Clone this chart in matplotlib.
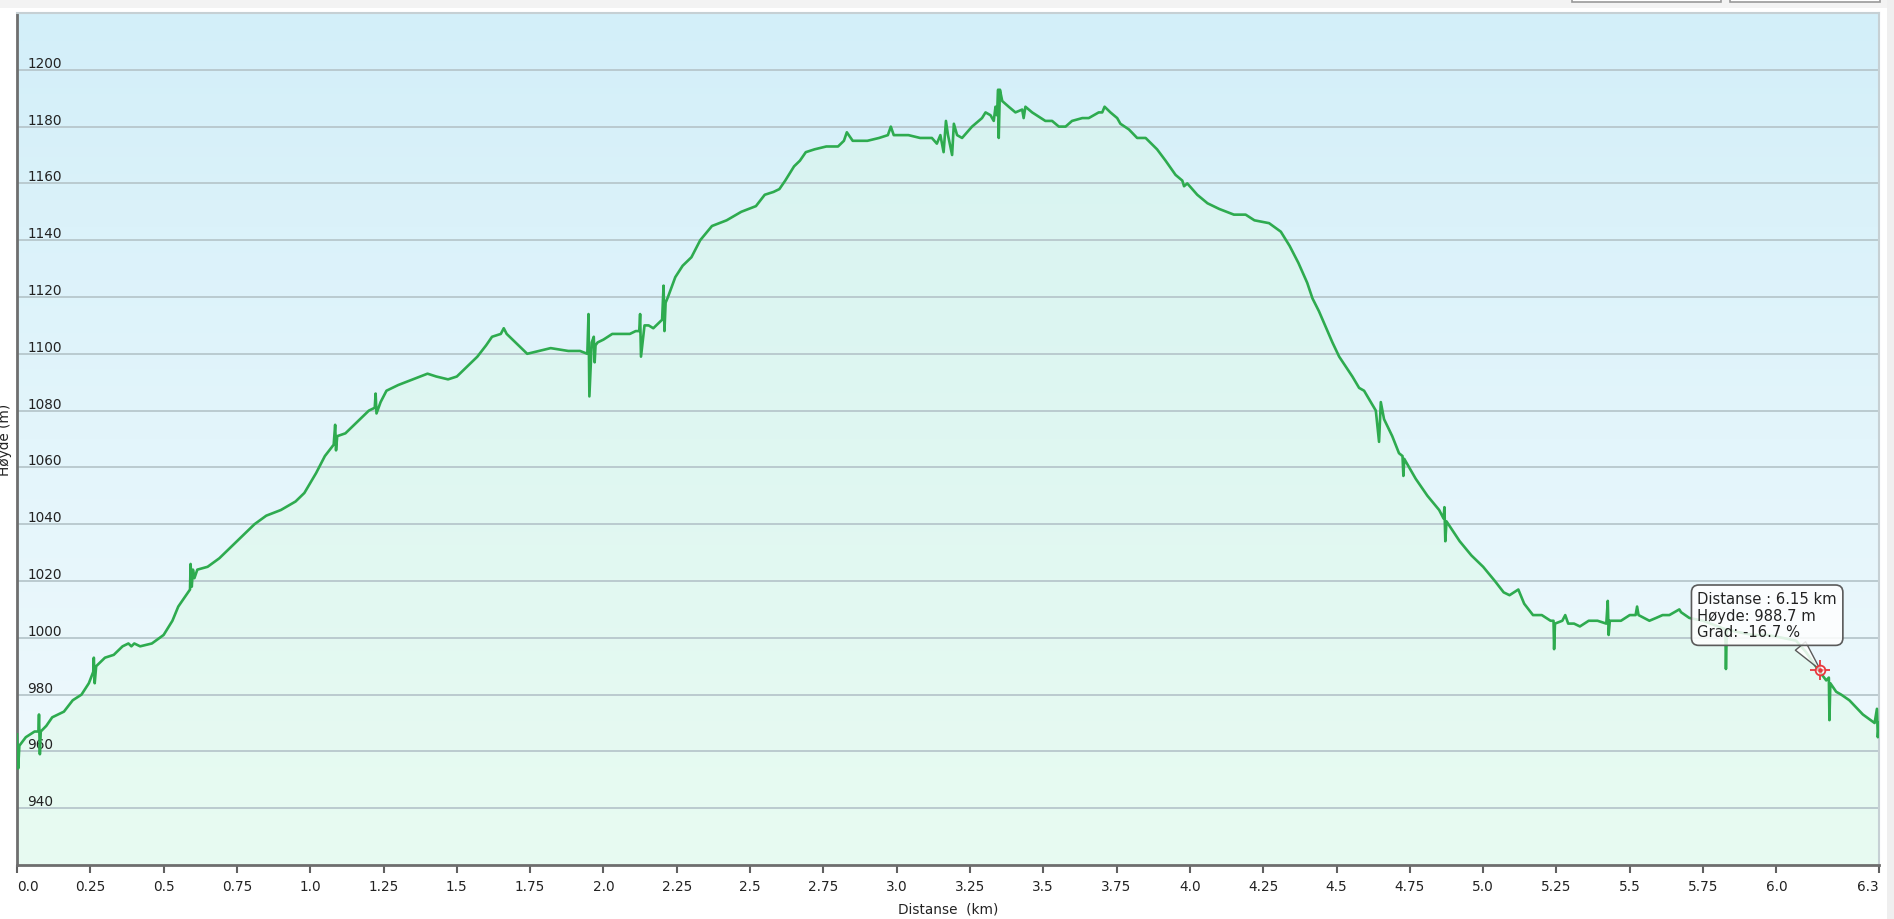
import numpy as np
import matplotlib
matplotlib.use('Agg')
import matplotlib.pyplot as plt
from matplotlib.patches import Rectangle
from matplotlib.colors import LinearSegmentedColormap

# ---------------- data ----------------
dist_km = [
    0.000, 0.004, 0.008, 0.03, 0.06, 0.073, 0.075, 0.078, 0.081, 0.10, 0.12, 0.16, 0.19, 0.22, 0.245,
    0.26, 0.262, 0.265, 0.27, 0.30, 0.33, 0.36, 0.38, 0.39, 0.40, 0.42, 0.46, 0.50, 0.53, 0.55, 0.57,
    0.59, 0.592, 0.596, 0.60, 0.605, 0.615, 0.65, 0.69, 0.73, 0.77, 0.81, 0.85, 0.90, 0.95, 0.98,
    1.02, 1.05, 1.08, 1.085, 1.088, 1.092, 1.12, 1.16, 1.20, 1.22, 1.223, 1.226, 1.24, 1.26, 1.30,
    1.35, 1.40, 1.43, 1.47, 1.50, 1.54, 1.57, 1.60, 1.62, 1.65, 1.66, 1.67, 1.70, 1.74, 1.78, 1.82,
    1.88, 1.92, 1.945, 1.949, 1.952, 1.96, 1.967, 1.970, 1.973, 1.98, 2.00, 2.03, 2.06, 2.09, 2.11,
    2.122, 2.125, 2.128, 2.14, 2.154, 2.17, 2.18, 2.20, 2.205, 2.208, 2.212, 2.22, 2.245, 2.27, 2.30,
    2.33, 2.37, 2.42, 2.47, 2.52, 2.55, 2.58, 2.60, 2.62, 2.65, 2.67, 2.69, 2.72, 2.76, 2.80, 2.82,
    2.83, 2.85, 2.90, 2.94, 2.97, 2.98, 2.99, 3.01, 3.04, 3.08, 3.12, 3.137, 3.149, 3.16, 3.168,
    3.175, 3.189, 3.195, 3.206, 3.223, 3.257, 3.291, 3.303, 3.32, 3.331, 3.337, 3.342, 3.346, 3.348,
    3.352, 3.36, 3.382, 3.405, 3.428, 3.433, 3.439, 3.462, 3.507, 3.53, 3.553, 3.576, 3.598, 3.633,
    3.655, 3.672, 3.689, 3.701, 3.709, 3.729, 3.752, 3.763, 3.792, 3.82, 3.849, 3.888, 3.917, 3.951,
    3.974, 3.98, 3.991, 4.025, 4.06, 4.10, 4.15, 4.19, 4.22, 4.27, 4.31, 4.34, 4.37, 4.40, 4.418,
    4.44, 4.486, 4.509, 4.554, 4.577, 4.594, 4.634, 4.645, 4.651, 4.662, 4.69, 4.713, 4.725, 4.728,
    4.731, 4.77, 4.81, 4.85, 4.865, 4.868, 4.871, 4.875, 4.92, 4.96, 5.00, 5.04, 5.07, 5.09, 5.12,
    5.14, 5.17, 5.20, 5.23, 5.24, 5.242, 5.245, 5.27, 5.28, 5.29, 5.31, 5.33, 5.36, 5.39, 5.42,
    5.425, 5.428, 5.432, 5.47, 5.50, 5.52, 5.525, 5.53, 5.567, 5.59, 5.612, 5.635, 5.652, 5.669,
    5.675, 5.703, 5.75, 5.80, 5.826, 5.828, 5.831, 5.87, 5.92, 5.97, 6.02, 6.067, 6.101, 6.141,
    6.17, 6.179, 6.181, 6.184, 6.204, 6.221, 6.249, 6.295, 6.335, 6.343, 6.346, 6.35,
]
elev_m = [
    966, 954, 962, 965, 967, 967, 973, 959, 967, 969, 972, 974, 978, 980, 984,
    988, 993, 984, 990, 993, 994, 997, 998, 997, 998, 997, 998, 1001, 1006, 1011, 1014,
    1017, 1026, 1018, 1024, 1021, 1024, 1025, 1028, 1032, 1036, 1040, 1043, 1045, 1048, 1051,
    1058, 1064, 1068, 1075, 1066, 1071, 1072, 1076, 1080, 1081, 1086, 1079, 1083, 1087, 1089,
    1091, 1093, 1092, 1091, 1092, 1096, 1099, 1103, 1106, 1107, 1109, 1107, 1104, 1100, 1101, 1102,
    1101, 1101, 1100, 1114, 1085, 1104, 1106, 1097, 1103, 1104, 1105, 1107, 1107, 1107, 1108,
    1108, 1114, 1099, 1110, 1110, 1109, 1110, 1112, 1124, 1108, 1118, 1120, 1127, 1131, 1134,
    1140, 1145, 1147, 1150, 1152, 1156, 1157, 1158, 1161, 1166, 1168, 1171, 1172, 1173, 1173, 1175,
    1178, 1175, 1175, 1176, 1177, 1180, 1177, 1177, 1177, 1176, 1176, 1174, 1177, 1171, 1182,
    1177, 1170, 1181, 1177, 1176, 1180, 1183, 1185, 1184, 1182, 1187, 1184, 1193, 1176,
    1193, 1189, 1187, 1185, 1186, 1183, 1187, 1185, 1182, 1182, 1180, 1180, 1182, 1183,
    1183, 1184, 1185, 1185, 1187, 1185, 1183, 1181, 1179, 1176, 1176, 1172, 1168, 1163,
    1161, 1159, 1160, 1156, 1153, 1151, 1149, 1149, 1147, 1146, 1143, 1138, 1132, 1125, 1119.5,
    1115, 1104, 1099, 1092, 1088, 1087, 1080, 1069, 1083, 1077, 1071, 1065, 1064, 1057,
    1063, 1056, 1050, 1045, 1042, 1046, 1034, 1041, 1034, 1029, 1025, 1020, 1016, 1015, 1017,
    1012, 1008, 1008, 1006, 1006, 996, 1005, 1006, 1008, 1005, 1005, 1004, 1006, 1006, 1005,
    1013, 1001, 1006, 1006, 1008, 1008, 1011, 1008, 1006, 1007, 1008, 1008, 1009, 1010,
    1009, 1007, 1006, 1004, 1003, 989, 1003, 1002, 1001, 1001, 1000, 999, 995, 989,
    985, 986, 971, 984, 981, 980, 978, 973, 970, 975, 965, 970,
]

y_ticks = [940, 960, 980, 1000, 1020, 1040, 1060, 1080, 1100, 1120, 1140, 1160, 1180, 1200]
x_ticks = [0.0, 0.25, 0.5, 0.75, 1.0, 1.25, 1.5, 1.75, 2.0, 2.25, 2.5, 2.75, 3.0, 3.25, 3.5,
           3.75, 4.0, 4.25, 4.5, 4.75, 5.0, 5.25, 5.5, 5.75, 6.0, 6.35]
x_tick_labels = ['0.0', '0.25', '0.5', '0.75', '1.0', '1.25', '1.5', '1.75', '2.0', '2.25', '2.5',
                 '2.75', '3.0', '3.25', '3.5', '3.75', '4.0', '4.25', '4.5', '4.75', '5.0', '5.25',
                 '5.5', '5.75', '6.0', '6.3']
x_min, x_max = 0.0, 6.35
y_min, y_max = 920, 1220

tip_dist, tip_elev, tip_grad = 6.15, 988.7, -16.7

# ---------------- figure ----------------
W, H = 1894, 920
fig = plt.figure(figsize=(W / 100, H / 100), dpi=100)
fig.patch.set_facecolor('white')

# top grey strip and right scroll strip
fig.add_artist(Rectangle((0, 1 - 9 / H), 1, 9 / H, transform=fig.transFigure,
                         facecolor='#f3f3f3', edgecolor='none', zorder=0))
fig.add_artist(Rectangle((1887 / W, 0), 7 / W, 1, transform=fig.transFigure,
                         facecolor='#efefef', edgecolor='none', zorder=0))
# button slivers at the top right
for bx0, bx1 in [(1572, 1721), (1730, 1880)]:
    fig.add_artist(Rectangle((bx0 / W, 1 - 2.5 / H), (bx1 - bx0) / W, 10 / H,
                             transform=fig.transFigure, facecolor='white',
                             edgecolor='#9a9a9a', lw=1.2, zorder=1))

ax = fig.add_axes([17 / W, (H - 866) / H, (1879 - 17) / W, (866 - 14) / H])
ax.set_xlim(x_min, x_max)
ax.set_ylim(y_min, y_max)

grad = np.linspace(0, 1, 256).reshape(-1, 1)
bg_cmap = LinearSegmentedColormap.from_list('bg', ['#f1fafd', '#e3f5fb', '#d3eff9'])
fill_cmap = LinearSegmentedColormap.from_list('fill', ['#e8fbf2', '#dff7f1', '#d6f2f1'])
ax.imshow(grad, extent=[x_min, x_max, y_min, y_max], origin='lower', aspect='auto',
          cmap=bg_cmap, zorder=0, interpolation='bilinear')
im_fill = ax.imshow(grad, extent=[x_min, x_max, y_min, y_max], origin='lower', aspect='auto',
                    cmap=fill_cmap, zorder=1, interpolation='bilinear')
poly = ax.fill_between(dist_km, elev_m, y_min, facecolor='none', edgecolor='none')
im_fill.set_clip_path(poly.get_paths()[0], transform=ax.transData)

ax.set_yticks(y_ticks)
ax.grid(axis='y', color='#b7c7cc', lw=1.3)
ax.grid(axis='x', visible=False)

ax.plot(dist_km, elev_m, color='#2eab4f', lw=1.9, zorder=3, solid_joinstyle='round')

# y tick labels inside the plot, above the gridlines
ax.tick_params(axis='y', length=0, pad=-7.5, labelsize=9.8, labelcolor='#222222')
for t in ax.get_yticklabels():
    t.set_ha('left')
    t.set_va('bottom')

ax.set_xticks(x_ticks)
ax.set_xticklabels(x_tick_labels)
ax.tick_params(axis='x', length=6, width=1.5, color='#606060', labelsize=9.8,
               labelcolor='#222222', pad=4)
xtl = ax.get_xticklabels()
xtl[0].set_ha('left')
xtl[-1].set_ha('right')

ax.set_xlabel('Distanse  (km)', fontsize=9.8, color='#222222', labelpad=6)
fig.text(5 / W, 1 - 440 / H, 'Høyde (m)', rotation=90, ha='center', va='center',
         fontsize=9.8, color='#222222')

for side in ['left', 'bottom']:
    ax.spines[side].set_color('#6e6e6e')
    ax.spines[side].set_linewidth(2)
for side in ['top', 'right']:
    ax.spines[side].set_color('#c6d0d4')
    ax.spines[side].set_linewidth(1.5)

# tooltip
ax.annotate(f"Distanse : {tip_dist:.2f} km\nHøyde: {tip_elev:.1f} m\nGrad: {tip_grad:.1f} %",
            xy=(tip_dist, tip_elev), xytext=(-123, 79), textcoords='offset pixels',
            ha='left', va='top', fontsize=10.6, color='#222222', linespacing=1.15,
            bbox=dict(boxstyle='round,pad=0.4,rounding_size=0.5', fc=(1, 1, 1, 0.85),
                      ec='#5a5a5a', lw=1.2),
            arrowprops=dict(arrowstyle='wedge,tail_width=0.9,shrink_factor=0.5',
                            fc=(1, 1, 1, 0.85), ec='#5a5a5a', lw=1.0, relpos=(0.7, 0.0),
                            shrinkA=0, shrinkB=0),
            zorder=6)

# red target marker
ax.plot([tip_dist], [tip_elev], marker='+', ms=15, mec='#e8383d', mew=1.3, zorder=7)
ax.plot([tip_dist], [tip_elev], marker='o', ms=7, mfc=(1, 1, 1, 0.6), mec='#e8383d', mew=1.3, zorder=8)
ax.plot([tip_dist], [tip_elev], marker='o', ms=2.2, mfc='#e8383d', mec='#e8383d', zorder=9)

fig.savefig('out.png', dpi=100)
